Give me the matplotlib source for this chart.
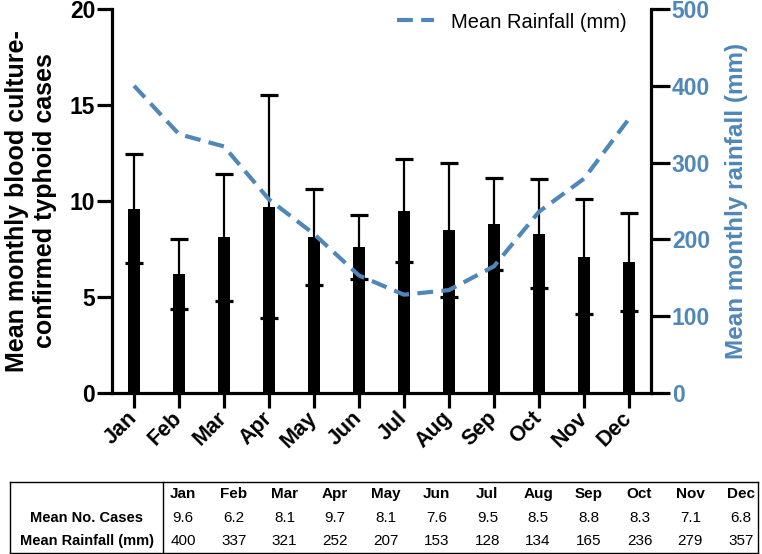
import matplotlib
matplotlib.use("Agg")
import matplotlib.pyplot as plt
from matplotlib.lines import Line2D
import numpy as np

plt.rcParams['font.family'] = ['Liberation Sans', 'DejaVu Sans']

# data
months = ['Jan', 'Feb', 'Mar', 'Apr', 'May', 'Jun', 'Jul', 'Aug', 'Sep', 'Oct', 'Nov', 'Dec']
cases = [9.6, 6.2, 8.1, 9.7, 8.1, 7.6, 9.5, 8.5, 8.8, 8.3, 7.1, 6.8]
cases_sd = [2.85, 1.8, 3.3, 5.8, 2.5, 1.65, 2.7, 3.5, 2.4, 2.85, 3.0, 2.55]
rainfall = [400, 337, 321, 252, 207, 153, 128, 134, 165, 236, 279, 357]

row_labels = ['Mean No. Cases', 'Mean Rainfall (mm)']

blue = '#4f87b8'
W, H = 762, 554

fig = plt.figure(figsize=(W / 100, H / 100), dpi=100)
ax = fig.add_axes([112 / W, 1 - 393 / H, (651 - 112) / W, (393 - 9) / H])
ax2 = ax.twinx()

x = np.arange(len(months))
ax.bar(x, cases, width=0.27, color='black', zorder=2)
ax.errorbar(x, cases, yerr=cases_sd, fmt='none', ecolor='black',
            elinewidth=1.6, capsize=6.5, capthick=2.3, zorder=3)

ax.set_xlim(-0.49, 11.49)
ax.set_ylim(0, 20)
ax.set_yticks([0, 5, 10, 15, 20])
ax.set_xticks(x)
ax.set_xticklabels(months, rotation=45, ha='right', va='center',
                   rotation_mode='anchor', fontsize=15.5, fontweight='bold')
for lab in ax.get_yticklabels():
    lab.set_fontweight('bold')
    lab.set_fontsize(16.5)

ax.tick_params(axis='y', length=11, width=2.3, pad=1)
ax.tick_params(axis='x', length=11, width=2.3, pad=5)
for s in ['top', 'right']:
    ax.spines[s].set_visible(False)
for s in ['left', 'bottom']:
    ax.spines[s].set_linewidth(2.3)

ax.set_ylabel('Mean monthly blood culture-\nconfirmed typhoid cases',
              fontsize=18, fontweight='bold', labelpad=9, linespacing=1.25)

ax2.plot(x, rainfall, color=blue, lw=3, ls=(0, (3.8, 2.0)),
         label='Mean Rainfall (mm)', zorder=4)
ax2.set_ylim(0, 500)
ax2.set_yticks([0, 100, 200, 300, 400, 500])
for lab in ax2.get_yticklabels():
    lab.set_fontweight('bold')
    lab.set_fontsize(16.5)
    lab.set_color(blue)
ax2.tick_params(axis='y', length=14, width=2.3, pad=1)
for s in ['top', 'left', 'bottom']:
    ax2.spines[s].set_visible(False)
ax2.spines['right'].set_linewidth(2.3)
ax2.set_ylabel('Mean monthly rainfall (mm)', fontsize=17.5, fontweight='bold',
               color=blue, labelpad=11)

ax2.legend(loc='center left', bbox_to_anchor=((397 - 112) / (651 - 112), 1 - (22 - 9) / 384),
           frameon=False, fontsize=14.5, handlelength=1.85, handletextpad=0.85,
           borderpad=0, borderaxespad=0)

# table underneath
narrow = ['Liberation Sans Narrow', 'Liberation Sans', 'DejaVu Sans']
left, right, top, bottom = 10, 758, 482, 553
divx = 163
lw = 1.0
for (x0, y0, x1, y1) in [(left, top, right, top), (left, bottom, right, bottom),
                         (left, top, left, bottom), (right, top, right, bottom),
                         (divx, top, divx, bottom)]:
    fig.add_artist(Line2D([x0 / W, x1 / W], [1 - y0 / H, 1 - y1 / H],
                          color='black', lw=lw, transform=fig.transFigure))

col_x = np.linspace(183, 741, len(months))
row_y = [494, 518, 541]
for cx, m in zip(col_x, months):
    fig.text(cx / W, 1 - row_y[0] / H, m, ha='center', va='center',
             fontsize=11, fontweight='bold', family=narrow)
for cx, c, r in zip(col_x, cases, rainfall):
    fig.text(cx / W, 1 - row_y[1] / H, f'{c:.1f}', ha='center', va='center',
             fontsize=11, family=narrow)
    fig.text(cx / W, 1 - row_y[2] / H, f'{r}', ha='center', va='center',
             fontsize=11, family=narrow)
for ry, lab in zip(row_y[1:], row_labels):
    fig.text(87 / W, 1 - ry / H, lab, ha='center', va='center',
             fontsize=10.5, fontweight='bold', family=narrow)

fig.savefig('out.png', dpi=100)
